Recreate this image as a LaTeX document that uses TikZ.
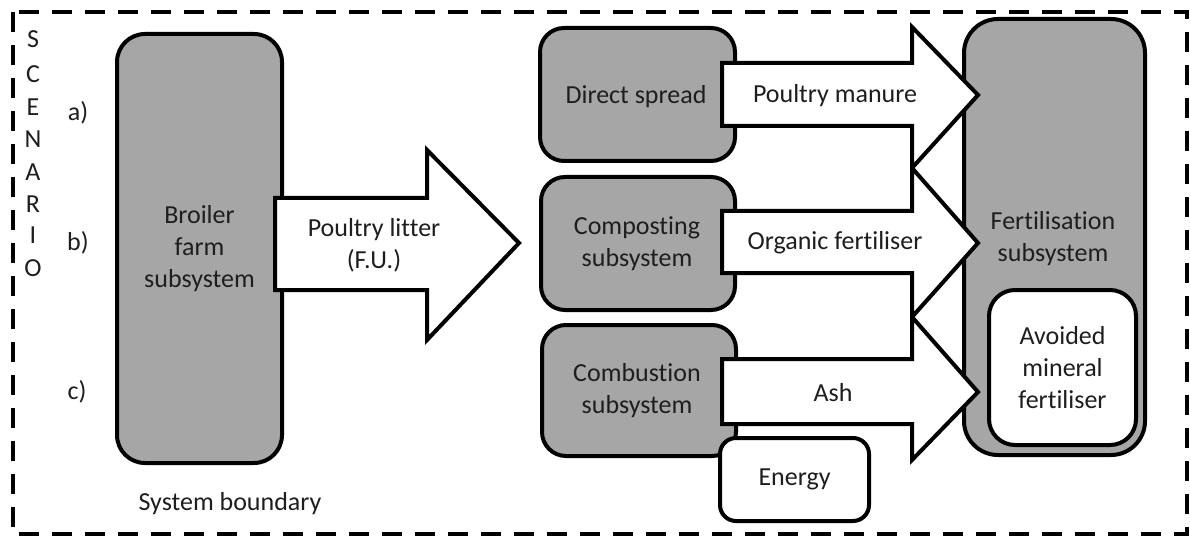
\documentclass[tikz,border=0pt]{standalone}
\usepackage{fontspec}
\setmainfont{Carlito}[Ligatures={NoCommon,NoRare}]
\definecolor{boxgray}{HTML}{A6A6A6}
\definecolor{txt}{HTML}{1E1E1E}
\begin{document}
\begin{tikzpicture}[x=1pt,y=-1pt,
  every node/.style={font=\fontsize{26}{32}\selectfont, text=txt, align=center, inner sep=0pt},
  graybox/.style={draw=black, line width=4pt, fill=boxgray, rectangle},
  whitebox/.style={draw=black, line width=4pt, fill=white, rectangle},
  flow/.style={draw=black, line width=4pt, fill=white, line join=miter},
  lbl/.style={font=\fontsize{26}{32}\selectfont},
  boundary/.style={draw=black, line width=4.5pt, dash pattern=on 20pt off 13pt}]
\useasboundingbox (0,0) rectangle (1190,537);

% system boundary
\draw[boundary] (13,12) rectangle (1187,534);

% SCENARIO letters
\foreach \l/\yy [count=\i] in {S/39,C/74,E/107,N/139,A/172,R/204,I/235,O/268}
  \node[lbl] (sc\i) at (33,\yy) {\l};
\node[lbl] (sa) at (78,113) {a)};
\node[lbl] (sb) at (78,243) {b)};
\node[lbl] (sc) at (77,392) {c)};
\node[lbl] (sysb) at (230,504) {System boundary};

% boxes
\node[graybox, rounded corners=28pt, minimum width=165pt, minimum height=429pt] (broiler) at (199.5,248.5) {Broiler\\farm\\subsystem};
\node[graybox, rounded corners=24pt, minimum width=195pt, minimum height=133pt] (direct) at (637.5,94.5) {};
\node[lbl] (directtxt) at (636,97) {Direct spread};
\node[graybox, rounded corners=24pt, minimum width=194pt, minimum height=133pt] (compost) at (638,243.5) {};
\node[lbl] (composttxt) at (637,244) {Composting\\subsystem};
\node[graybox, rounded corners=24pt, minimum width=194pt, minimum height=131pt] (combust) at (639,390.5) {};
\node[lbl] (combusttxt) at (637,391) {Combustion\\subsystem};
\node[graybox, rounded corners=34pt, minimum width=181pt, minimum height=436pt] (fert) at (1054.5,237) {};
\node[lbl] (ferttxt) at (1053,238.5) {Fertilisation\\subsystem};
\node[whitebox, rounded corners=26pt, minimum width=147pt, minimum height=155pt] (avoided) at (1062.5,367.5) {Avoided\\mineral\\fertiliser};

% block arrows
\draw[flow] (275,198) -- (427,198) -- (427,150) -- (519,243) -- (427,340) -- (427,290) -- (275,290) -- cycle;
\node[lbl] (litter) at (374,245) {Poultry litter\\(F.U.)};

\draw[flow] (722,63) -- (912,63) -- (912,27) -- (978,95) -- (912,168) -- (912,126) -- (722,126) -- cycle;
\node[lbl] (manure) at (835,96) {Poultry manure};

\draw[flow] (722,211) -- (912,211) -- (912,168) -- (978,243) -- (912,317) -- (912,273) -- (722,273) -- cycle;
\node[lbl] (organic) at (835,243) {Organic fertiliser};

\draw[flow] (722,359) -- (912,359) -- (912,317) -- (978,392) -- (912,460) -- (912,424) -- (722,424) -- cycle;
\node[lbl] (ash) at (833,393) {Ash};

\node[whitebox, rounded corners=16pt, minimum width=149pt, minimum height=83pt] (energy) at (794.5,479.5) {Energy};
\end{tikzpicture}
\end{document}
